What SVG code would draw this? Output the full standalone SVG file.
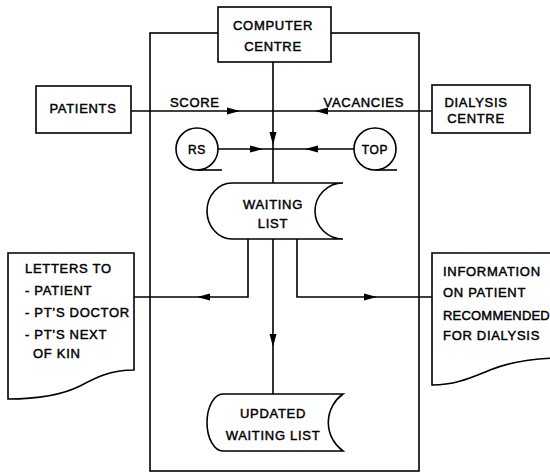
<svg xmlns="http://www.w3.org/2000/svg" width="550" height="473" viewBox="0 0 550 473">
<style>
.ln{fill:none;stroke:#000;stroke-width:1.6}
.bx{fill:#fff;stroke:#000;stroke-width:1.6}
.t{font-family:"Liberation Sans",Arial,sans-serif;font-size:13px;letter-spacing:0.7px;fill:#000;stroke:#000;stroke-width:0.45}
.c{text-anchor:middle}
</style>
<defs>
<path id="ah" d="M0,0 L-13,-3.5 L-13,3.5 Z" fill="#000"/>
</defs>
<rect width="550" height="473" fill="#fff"/>
<g id="frame"><rect class="ln" x="150" y="33" width="269" height="438"/></g>
<g id="connectors">
<line class="ln" x1="131" y1="111" x2="432" y2="111"/>
<use href="#ah" transform="translate(240,111)"/>
<use href="#ah" transform="translate(315,111) rotate(180)"/>
<line class="ln" x1="273" y1="62" x2="273" y2="183"/>
<use href="#ah" transform="translate(273,145) rotate(90)"/>
<line class="ln" x1="218" y1="149" x2="354" y2="149"/>
<use href="#ah" transform="translate(263,149)"/>
<use href="#ah" transform="translate(305,149) rotate(180)"/>
<line class="ln" x1="273" y1="239" x2="273" y2="394"/>
<use href="#ah" transform="translate(273,347) rotate(90)"/>
<polyline class="ln" points="248,239 248,297 134,297"/>
<use href="#ah" transform="translate(197,297) rotate(180)"/>
<polyline class="ln" points="297,239 297,297 432,297"/>
<use href="#ah" transform="translate(377,297)"/>
</g>
<g id="computer-centre">
<rect class="bx" x="218" y="7" width="113" height="55"/>
<text class="t c" x="273" y="30">COMPUTER</text>
<text class="t c" x="273" y="51">CENTRE</text>
</g>
<g id="patients">
<rect class="bx" x="36" y="86" width="95" height="47"/>
<text class="t c" x="83" y="113">PATIENTS</text>
</g>
<g id="dialysis-centre">
<rect class="bx" x="432" y="85" width="98" height="48"/>
<text class="t c" x="476" y="107">DIALYSIS</text>
<text class="t c" x="476" y="123">CENTRE</text>
</g>
<g id="labels">
<text class="t" x="170" y="107">SCORE</text>
<text class="t" x="404" y="107" text-anchor="end">VACANCIES</text>
</g>
<g id="rs">
<circle class="bx" cx="197" cy="149" r="21"/>
<line class="ln" x1="197" y1="170" x2="222" y2="170"/>
<text class="t c" x="197" y="154" style="font-size:12px">RS</text>
</g>
<g id="top">
<circle class="bx" cx="375" cy="149" r="21"/>
<line class="ln" x1="375" y1="170" x2="397" y2="170"/>
<text class="t c" x="375" y="154" style="font-size:12px">TOP</text>
</g>
<g id="waiting-list">
<path class="bx" d="M343,183 L232,183 A25,28 0 0 0 232,239 L343,239 A28,28 0 0 1 343,183 Z"/>
<text class="t c" x="273" y="209">WAITING</text>
<text class="t c" x="273" y="228">LIST</text>
</g>
<g id="updated-waiting-list">
<path class="bx" d="M343,394 L223,394 A16,28.5 0 0 0 223,451 L343,451 A35,35 0 0 1 343,394 Z"/>
<text class="t c" x="273" y="418">UPDATED</text>
<text class="t c" x="273" y="440">WAITING LIST</text>
</g>
<g id="letters">
<path class="bx" d="M8,253 L134,253 L134,370 C110,370 95,378 80,386 C62,395 40,399 8,399 Z"/>
<text class="t" x="25" y="273">LETTERS TO</text>
<text class="t" x="25" y="295">- PATIENT</text>
<text class="t" x="25" y="317">- PT’S DOCTOR</text>
<text class="t" x="25" y="339">- PT’S NEXT</text>
<text class="t" x="33" y="358">OF KIN</text>
</g>
<g id="information">
<path class="bx" d="M432,253 L560,253 L560,358 C530,358 510,362 490,370 C470,378 455,385 432,385 Z"/>
<text class="t" x="443" y="276">INFORMATION</text>
<text class="t" x="443" y="297">ON PATIENT</text>
<text class="t" x="443" y="320" style="letter-spacing:0.2px">RECOMMENDED</text>
<text class="t" x="443" y="340">FOR DIALYSIS</text>
</g>
</svg>
